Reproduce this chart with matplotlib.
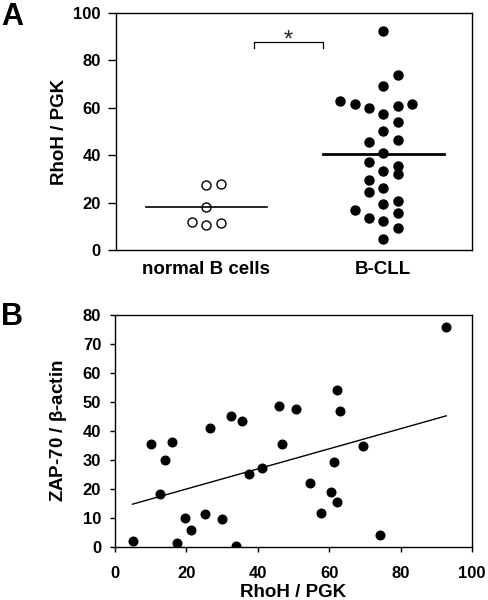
import numpy as np
import matplotlib
matplotlib.use("Agg")
import matplotlib.pyplot as plt

plt.rcParams['font.family'] = ['Liberation Sans', 'DejaVu Sans']
plt.rcParams['mathtext.default'] = 'regular'

# ---- Panel A data ----
categories = ["normal B cells", "B-CLL"]
normal_col = [-1, 0, 0, 0, 1, 1]
normal_vals = [12.0, 27.3, 18.3, 10.6, 28.0, 11.5]
normal_median = 18.0

cll_col = [0, 1, 0, -3, -2, -1, 1, 2, 0, 1, 0, -1, 1, 0, -1, 1, 0, 1, -1,
           0, -1, 0, 1, -2, -1, 0, 1, 1, 0]
cll_vals = [92.4, 73.9, 69.0, 62.7, 61.8, 60.1, 60.7, 61.7, 57.3, 54.1, 50.3,
            45.5, 46.3, 40.8, 37.0, 35.5, 33.4, 32.1, 29.4, 26.1, 24.4, 19.4,
            20.7, 16.8, 13.7, 12.3, 15.5, 9.4, 4.5]
cll_median = 40.4

# ---- Panel B data ----
rhoh = [4.9, 10.0, 12.6, 14.1, 15.9, 17.3, 19.6, 21.3, 25.2, 26.6, 30.0, 32.6,
        33.8, 35.5, 37.5, 41.3, 46.0, 46.9, 50.8, 54.5, 57.8, 60.4, 61.3, 62.1,
        62.1, 63.0, 69.4, 74.3, 92.8]
zap70 = [1.95, 35.6, 18.3, 29.9, 36.2, 1.5, 10.0, 5.7, 11.5, 41.2, 9.6, 45.1,
         0.5, 43.3, 25.3, 27.4, 48.6, 35.6, 47.5, 22.0, 11.8, 18.8, 29.2, 54.2,
         15.4, 46.8, 35.0, 4.0, 75.9]

fig = plt.figure(figsize=(4.88, 6.0), dpi=100)

tick_fs = 12
lab_fs = 13.5

# ---------------- Panel A ----------------
axA = fig.add_axes([0.2377, 0.5833, 0.7293, 0.395])
step = 0.081
xs_n = [1 + c * step for c in normal_col]
xs_c = [2 + c * step for c in cll_col]
axA.plot(xs_n, normal_vals, 'o', ms=6.5, mfc='white', mec='black', mew=1.0, ls='none')
axA.plot(xs_c, cll_vals, 'o', ms=6.5, mfc='black', mec='black', ls='none')
axA.plot([0.66, 1.34], [normal_median] * 2, color='black', lw=1.2)
axA.plot([1.66, 2.34], [cll_median] * 2, color='black', lw=2.0)
# significance bracket
axA.plot([1.27, 1.27, 1.66, 1.66], [85.2, 87.9, 87.9, 85.2], color='black', lw=0.9)
axA.text(1.465, 86.0, '*', ha='center', va='baseline', fontsize=17, color='#222222')
axA.set_xlim(0.49, 2.5)
axA.set_ylim(0, 100)
axA.set_xticks([1, 2])
axA.set_xticklabels(categories, fontsize=lab_fs, fontweight='bold')
axA.tick_params(axis='x', length=0, pad=8)
axA.set_yticks([0, 20, 40, 60, 80, 100])
axA.tick_params(axis='y', direction='out', length=5.5, width=1, labelsize=tick_fs, pad=5.5)
for lbl in axA.get_yticklabels():
    lbl.set_fontweight('bold')
axA.set_ylabel('RhoH / PGK', fontsize=lab_fs, fontweight='bold', labelpad=4)
for s in axA.spines.values():
    s.set_linewidth(1.0)
fig.text(0.002, 0.997, 'A', fontsize=22, fontweight='bold', va='top', ha='left')

# ---------------- Panel B ----------------
axB = fig.add_axes([0.2357, 0.0883, 0.7313, 0.3867])
axB.plot(rhoh, zap70, 'o', ms=6.2, mfc='black', mec='black', ls='none')
slope, intercept = np.polyfit(rhoh, zap70, 1)
xl = np.array([min(rhoh), max(rhoh)])
axB.plot(xl, slope * xl + intercept, color='black', lw=1.0)
axB.set_xlim(0, 100)
axB.set_ylim(0, 80)
axB.set_xticks([0, 20, 40, 60, 80, 100])
axB.set_yticks([0, 10, 20, 30, 40, 50, 60, 70, 80])
axB.tick_params(axis='x', direction='out', length=3.5, width=1, labelsize=tick_fs, pad=10)
axB.tick_params(axis='y', direction='out', length=3.5, width=1, labelsize=tick_fs, pad=6.5)
for lbl in axB.get_xticklabels() + axB.get_yticklabels():
    lbl.set_fontweight('bold')
axB.set_xlabel('RhoH / PGK', fontsize=lab_fs, fontweight='bold', labelpad=2)
axB.set_ylabel(r'ZAP-70 / $\beta$-actin', fontsize=lab_fs, fontweight='bold', labelpad=10)
for s in axB.spines.values():
    s.set_linewidth(1.0)
fig.text(0.002, 0.497, 'B', fontsize=22, fontweight='bold', va='top', ha='left')

fig.savefig('out.png', dpi=100)
